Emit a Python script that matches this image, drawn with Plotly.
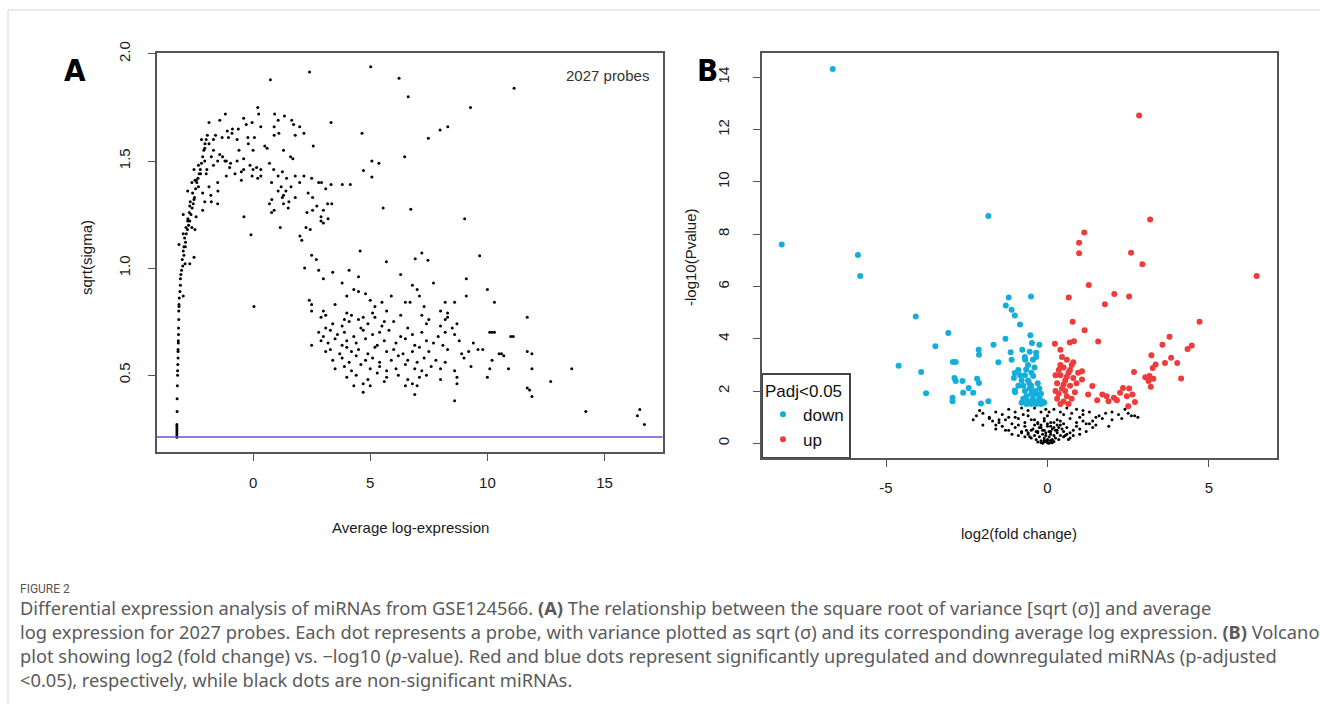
import plotly.graph_objects as go

W, H = 1320, 704

# ---------------- Panel A data (Average log-expression vs sqrt(sigma)) ----------------
a_curve_x = [-3.25, -3.25, -3.25, -3.25, -3.25, -3.25, -3.25, -3.24, -3.24, -3.23, -3.22, -3.22, -3.21, -3.2, -3.2, -3.2,
             -3.19, -3.19, -3.18, -3.18, -3.17, -3.17, -3.16, -3.16, -3.15, -3.12, -3.1, -3.1, -3.08, -3.05, -3.0, -3.02,
             -2.95, -2.9, -2.98, -2.95, -2.88, -2.92, -2.85, -2.8, -2.86, -2.75, -2.7, -2.78, -2.65, -2.72, -2.6, -2.55,
             -2.68, -2.5, -2.58, -2.45, -2.4, -2.35, -2.48, -2.3, -2.25, -2.2, -2.15, -2.1, -2.05, -2.0, -1.95,
             -2.98, -2.70, -2.52]
a_curve_y = [0.21, 0.22, 0.23, 0.24, 0.25, 0.26, 0.27, 0.33, 0.39, 0.45, 0.50, 0.52, 0.55, 0.58, 0.61, 0.62,
             0.65, 0.66, 0.69, 0.72, 0.76, 0.80, 0.82, 0.83, 0.86, 0.89, 0.92, 0.95, 0.97, 0.99, 1.01, 1.04,
             1.06, 1.02, 1.08, 1.10, 1.12, 1.14, 1.16, 1.18, 1.19, 1.20, 1.22, 1.23, 1.25, 1.26, 1.28, 1.30,
             1.31, 1.33, 1.35, 1.37, 1.40, 1.42, 1.41, 1.44, 1.46, 1.49, 1.52, 1.55, 1.58, 1.60, 1.62,
             0.87, 1.02, 1.05]

a_hump_x = [-1.88, -1.42, -1.18, -0.88, -0.63, -0.40, -0.29, -0.04, 0.24, 0.20, 0.92, 1.07, 1.34, 1.65, 1.73, 1.99,
            2.17, 0.33, 0.06, -0.22, -0.68, -1.05, -1.32, -1.69, -1.88, -2.06, -1.69, -1.42, -1.14, -0.96, -0.68,
            -0.40, -0.13, 0.15, 0.33, 0.70, 0.88, 1.07, 1.25, 1.43, 1.62, 1.80, 1.99, 2.17, 2.35, 2.54, 2.72, 2.90,
            3.00, 3.18, 3.36, 2.54, 2.26, 2.08, 2.44, 1.80, 1.53, 1.25, 1.07, 0.79, 0.70, 0.79, 1.16, 0.33, -0.04,
            -0.40, -0.77, -1.14, -1.51, -1.88, -2.15, -2.33, -2.43, -2.24, -1.97, -1.69, -1.51, -1.78, -2.06, -2.33,
            -2.52, -2.61, -2.79, -2.52, -2.70, -2.98, -2.79, -2.61, -2.98, -3.16, -2.89, -2.06, -1.78, -1.51, -2.15,
            -2.43, -2.48,
            -1.3, -1.2, -1.0, -0.5, 0.0, 0.2, 0.5, 0.6, 0.9, 1.1, 1.3, 1.6, 1.7, 1.8, -0.6, -0.2, 0.0, 0.9, -0.9,
            -1.1, -1.6, -2.2, 1.3, 1.4, 1.3, 1.5, 1.2, 2.5, 2.3, 2.8, 3.1, 3.2, 2.9, 3.0, 0.8, 0.9, 2.0, -0.5, -1.5,
            -2.0, -1.8]
a_hump_y = [1.68, 1.69, 1.72, 1.65, 1.65, 1.70, 1.67, 1.68, 1.72, 1.75, 1.72, 1.69, 1.71, 1.69, 1.67, 1.66,
            1.63, 1.66, 1.61, 1.61, 1.60, 1.61, 1.61, 1.60, 1.58, 1.56, 1.55, 1.53, 1.50, 1.49, 1.50,
            1.51, 1.48, 1.47, 1.46, 1.49, 1.46, 1.43, 1.45, 1.42, 1.38, 1.43, 1.40, 1.43, 1.35, 1.33, 1.29, 1.24,
            1.21, 1.30, 1.30, 1.27, 1.19, 1.13, 1.18, 1.33, 1.31, 1.33, 1.36, 1.40, 1.30, 1.26, 1.19, 1.43, 1.43,
            1.46, 1.44, 1.43, 1.40, 1.38, 1.35, 1.38, 1.41, 1.44, 1.46, 1.48, 1.50, 1.52, 1.50, 1.48,
            1.46, 1.40, 1.36, 1.32, 1.29, 1.25, 1.22, 1.19, 1.16, 1.11, 1.10, 1.31, 1.31, 1.30, 1.27,
            1.24, 1.18,
            1.52, 1.50, 1.47, 1.45, 1.46, 1.42, 1.57, 1.56, 1.62, 1.63, 1.55, 1.52, 1.51, 1.62, 1.55, 1.58, 1.55, 1.66, 1.63,
            1.64, 1.62, 1.60, 1.34, 1.36, 1.30, 1.28, 1.38, 1.42, 1.26, 1.40, 1.37, 1.23, 1.22, 1.27, 1.32, 1.27, 1.15, 1.41, 1.36,
            1.44, 1.34]

a_outlier_x = [0.74, 2.41, 5.02, 6.23, 6.62, 11.14, 9.28, 8.31, 7.98, 7.48, 4.65, 3.33, 2.57, 6.47, 5.07, 5.37, 4.71,
               5.07, 4.15, 3.81, 3.33, 2.92, 5.55, 6.73, 9.03, -0.39, -0.09, 0.04, 4.57, 5.69, 7.20, 6.92, 7.46, 9.67,
               13.6, 14.2, 16.5, 16.4, 16.7, 11.8, 9.6, 10.2, 11.1, 10.6]
a_outlier_y = [1.88, 1.916, 1.94, 1.886, 1.80, 1.84, 1.75, 1.66, 1.645, 1.606, 1.63, 1.68, 1.57, 1.52, 1.50, 1.49, 1.456,
               1.425, 1.39, 1.39, 1.39, 1.40, 1.28, 1.275, 1.23, 1.24, 1.156, 0.82, 1.08, 1.03, 1.07, 1.044, 1.036, 1.058,
               0.53, 0.33, 0.34, 0.31, 0.27, 0.43, 0.62, 0.70, 0.68, 0.60]

a_upper_cloud_x = [2.2, 2.5, 2.7, 2.8, 3.0, 3.4, 3.8, 4.1, 4.5, 4.3, 4.5, 4.8, 4.0, 2.4, 2.5, 2.5, 3.0, 3.1, 3.5, 4.0,
                   5.0, 5.2, 5.5, 5.7, 5.9, 6.3, 6.5, 6.7, 6.8, 7.0, 7.1, 7.3, 7.7, 7.2, 8.2, 8.0, 8.6, 9.1, 9.1, 10.0,
                   10.3, 8.2, 8.3, 5.1, 4.7]
a_upper_cloud_y = [1.0, 1.06, 1.04, 0.99, 0.95, 0.98, 0.93, 0.99, 0.96, 0.90, 0.89, 0.88, 0.87, 0.85, 0.83, 0.80, 0.80,
                   0.78, 0.83, 0.79, 0.85, 0.82, 0.84, 0.80, 0.87, 0.97, 0.84, 0.84, 0.92, 0.90, 0.87, 0.82, 0.93, 0.78,
                   0.84, 0.80, 0.84, 0.95, 0.87, 0.90, 0.84, 0.76, 0.79, 0.79, 0.77]

a_cloud_x = [2.9, 3.9, 4.2, 4.5, 5.2, 5.6, 6.3, 7.5, 8.3, 11.7,
             3.1, 3.4, 3.8, 4.1, 4.6, 4.9, 5.5, 6.0, 6.6, 7.4, 8.0, 8.5, 8.7,
             2.8, 3.0, 3.3, 3.6, 3.9, 4.3, 4.7, 5.1, 5.4, 5.8, 6.3, 6.8, 7.2, 7.9, 8.2, 8.6, 10.1, 10.3, 11.0,
             2.5, 2.9, 3.2, 3.5, 3.8, 4.0, 4.4, 4.8, 5.3, 5.6, 6.1, 6.5, 6.9, 7.4, 7.7, 8.1, 8.8, 9.4,
             3.1, 3.3, 3.7, 4.0, 4.2, 4.5, 4.9, 5.2, 5.7, 6.0, 6.4, 6.8, 7.1, 7.5, 8.3, 8.9, 9.2, 9.8, 10.5, 11.7, 11.9,
             3.4, 3.8, 4.1, 4.4, 4.8, 5.1, 5.4, 5.9, 6.2, 6.6, 7.0, 7.3, 7.8, 8.2, 9.0, 10.2, 10.7,
             3.5, 3.9, 4.2, 4.6, 5.0, 5.4, 5.7, 6.1, 6.5, 6.9, 7.2, 7.6, 8.0, 8.6, 9.3, 10.1, 10.9, 11.9,
             4.0, 4.4, 4.9, 5.3, 5.7, 6.2, 6.6, 7.1, 7.4, 8.0, 8.7, 10.0,
             4.3, 4.7, 5.0, 5.6, 6.5, 6.8, 7.0, 8.7, 11.7, 12.7,
             4.7, 6.9, 8.6, 11.9]
a_cloud_y = [0.77, 0.76, 0.78, 0.76, 0.77, 0.75, 0.78, 0.76, 0.77, 0.77,
             0.72, 0.74, 0.73, 0.75, 0.72, 0.74, 0.73, 0.75, 0.72, 0.74, 0.73, 0.72, 0.74,
             0.70, 0.68, 0.71, 0.69, 0.70, 0.68, 0.71, 0.69, 0.70, 0.71, 0.68, 0.69, 0.70, 0.68, 0.70, 0.69, 0.70, 0.70, 0.68,
             0.64, 0.66, 0.65, 0.67, 0.64, 0.66, 0.65, 0.67, 0.64, 0.66, 0.65, 0.67, 0.64, 0.66, 0.65, 0.64, 0.66, 0.65,
             0.61, 0.62, 0.60, 0.63, 0.61, 0.62, 0.60, 0.63, 0.61, 0.62, 0.60, 0.61, 0.63, 0.61, 0.62, 0.60, 0.61, 0.62, 0.60, 0.61, 0.60,
             0.57, 0.58, 0.56, 0.59, 0.57, 0.58, 0.56, 0.57, 0.59, 0.57, 0.56, 0.58, 0.57, 0.56, 0.58, 0.57, 0.59,
             0.53, 0.54, 0.52, 0.55, 0.53, 0.54, 0.52, 0.53, 0.55, 0.53, 0.52, 0.54, 0.53, 0.52, 0.54, 0.53, 0.53, 0.53,
             0.49, 0.50, 0.48, 0.51, 0.49, 0.50, 0.48, 0.49, 0.50, 0.48, 0.49, 0.49,
             0.45, 0.46, 0.45, 0.47, 0.45, 0.46, 0.45, 0.46, 0.44, 0.47,
             0.42, 0.41, 0.38, 0.40]

a_prior_sigma = 0.211   # blue horizontal line
a_probe_label = "2027 probes"
a_xticks = [0, 5, 10, 15]
a_yticks = [0.5, 1.0, 1.5, 2.0]
a_ytick_text = ["0.5", "1.0", "1.5", "2.0"]

# ---------------- Panel B data (volcano) ----------------
b_down_x = [-6.65, -8.23, -5.87, -5.80, -1.83, -4.08, -4.61, -3.91, -3.76, -3.47, -3.07, -2.93, -2.84, -2.88, -2.84,
            -2.63, -2.94, -2.94, -2.61, -2.44, -2.30, -2.18, -2.12, -2.13, -2.12, -1.67, -2.06, -1.83, -1.52, -1.30,
            -1.20, -1.29, -1.11, -1.01, -0.85, -0.51, -0.53, -1.14, -1.11, -1.01, -1.04, -1.01, -0.78, -0.69, -0.66,
            -0.48, -0.25, -0.35, -0.44, -0.57,
            -0.9, -0.85, -0.8, -0.75, -0.7, -0.65, -0.6, -0.55, -0.5, -0.45, -0.4, -0.35, -0.3, -0.25, -0.2, -0.15,
            -0.1, -0.6, -0.5, -0.4, -0.3, -0.7, -0.5, -0.4, -0.6, -0.45, -0.55, -0.35, -0.7, -0.9, -1.0, -0.75, -0.65,
            -0.35, -0.5, -0.8, -0.25, -0.2]
b_down_y = [14.32, 7.61, 7.20, 6.40, 8.70, 4.85, 2.97, 2.73, 1.91, 3.71, 4.22, 3.11, 3.11, 2.50, 2.38,
            2.38, 1.74, 1.61, 1.93, 2.12, 1.93, 2.47, 2.31, 3.58, 3.39, 3.77, 1.52, 1.61, 3.10, 4.00,
            5.58, 5.27, 5.11, 4.89, 4.54, 5.62, 4.13, 3.48, 3.20, 2.69, 2.50, 2.02, 3.58, 3.20, 2.82,
            3.84, 3.77, 3.46, 2.57, 2.31,
            2.8, 2.6, 2.4, 2.2, 2.0, 1.8, 1.6, 2.1, 1.9, 1.7, 1.55, 1.9, 1.6, 1.75, 1.5, 1.6,
            1.55, 2.4, 2.2, 2.0, 2.3, 2.6, 2.7, 2.9, 3.0, 3.2, 3.5, 3.3, 3.3, 2.2, 1.95, 1.7, 1.5,
            1.5, 1.5, 1.55, 2.1, 1.9]

b_up_x = [2.84, 3.18, 1.14, 0.98, 0.98, 2.59, 2.94, 6.48, 1.28, 0.66, 2.07, 1.78, 2.53, 0.78, 1.15, 4.71, 1.57,
          3.78, 3.56, 4.47, 4.34, 0.23, 0.40, 0.69, 0.82, 3.22, 3.35, 3.26, 3.64, 3.83, 4.02, 4.14, 2.68, 3.03,
          3.16, 3.20, 3.13, 3.28, 2.53, 2.34, 2.25, 2.06, 1.83, 1.70, 1.54, 1.89, 2.15, 2.46, 2.63, 2.71, 2.50,
          1.39, 1.26, 1.07, 1.07,
          0.25, 0.3, 0.35, 0.4, 0.45, 0.5, 0.55, 0.6, 0.65, 0.7, 0.75, 0.8, 0.85, 0.5, 0.4, 0.3, 0.6, 0.7, 0.45,
          0.35, 0.55, 0.9, 0.65, 0.75, 0.25, 0.4, 0.8, 0.95, 0.6, 0.5]
b_up_y = [12.54, 8.56, 8.06, 7.67, 7.27, 7.29, 6.85, 6.40, 6.06, 5.58, 5.71, 5.32, 5.62, 4.65, 4.32, 4.65, 3.89,
          4.08, 3.77, 3.74, 3.61, 3.81, 3.58, 3.86, 3.90, 3.37, 3.01, 2.88, 3.07, 3.27, 3.07, 2.48, 2.73, 2.53,
          2.57, 2.16, 2.38, 2.47, 2.10, 2.12, 1.93, 1.74, 1.80, 1.87, 1.65, 1.61, 1.65, 1.80, 1.87, 1.58, 1.42,
          2.19, 1.87, 2.76, 2.44,
          2.0, 2.3, 1.9, 2.6, 2.1, 2.9, 2.4, 1.8, 2.7, 2.2, 3.0, 2.5, 1.95, 1.6, 1.5, 1.7, 3.2, 2.8, 3.3,
          2.8, 2.0, 2.3, 1.5, 1.7, 2.6, 3.0, 3.1, 2.7, 2.55, 2.25]

b_ns_x = [-2.2, -2.0, -1.8, -1.6, -1.4, -1.2, -1.0, -0.8, -0.6, -0.4, -0.2, 0.2, 0.4, 0.6, 0.9, 1.1, 1.3, 1.5, 1.8,
          2.0, 2.2, 2.4, 2.6, 2.8, -2.3, 1.7, 2.3,
          -2.0, -1.7, -1.5, -1.3, -1.1, -0.9, -0.7, -0.5, -0.3, -0.1, 0.1, 0.3, 0.5, 0.7, 0.9, 1.1, 1.3, 1.5, 1.9,
          -1.0, 0.0, 1.0, -0.6, 0.5,
          -1.6, -1.4, -1.2, -1.0, -0.8, -0.7, -0.5, -0.4, -0.3, -0.2, -0.1, 0.0, 0.1, 0.2, 0.3, 0.4, 0.5, 0.6, 0.8,
          1.0, 1.2, 1.4, -0.9, 0.7, -0.6, 0.9,
          -0.9, -0.7, -0.6, -0.5, -0.4, -0.35, -0.3, -0.25, -0.2, -0.15, -0.1, -0.05, 0.0, 0.05, 0.1, 0.15, 0.2,
          0.25, 0.3, 0.35, 0.4, 0.5, 0.6, 0.7, 0.8, -0.8, -1.1, 1.0,
          -0.3, -0.2, -0.1, 0.0, 0.05, 0.1, 0.2, -0.05, 0.15, -0.15, 0.0, 0.1, -0.1,
          -0.45, -0.35, -0.25, -0.15, -0.05, 0.05, 0.15, 0.25, 0.35, 0.45, -0.55, -0.65, 0.55, 0.65, -0.3, -0.2,
          -0.1, 0.0, 0.1, 0.2, 0.3, -0.4, 0.4, -1.3, -1.5, 1.2, 1.6, -1.8, 2.0, 2.5, -1.2, 1.1, -0.75, 0.75,
          -0.05, 0.05, -2.1, 2.7, 1.4, -1.6]
b_ns_y = [1.05, 1.15, 1.0, 1.2, 1.1, 1.3, 1.2, 1.35, 1.25, 1.35, 1.2, 1.3, 1.2, 1.35, 1.3, 1.1, 1.2, 1.0, 1.15,
          1.2, 1.1, 1.3, 1.05, 1.0, 0.9, 0.95, 0.95,
          0.7, 0.85, 0.8, 0.9, 0.75, 0.95, 0.8, 0.9, 0.75, 0.95, 0.8, 0.9, 0.75, 0.95, 0.8, 0.85, 0.75, 0.7, 0.65,
          1.0, 1.05, 1.0, 1.05, 1.1,
          0.55, 0.65, 0.5, 0.6, 0.45, 0.65, 0.5, 0.7, 0.45, 0.6, 0.5, 0.65, 0.45, 0.6, 0.5, 0.7, 0.45, 0.6, 0.5,
          0.55, 0.45, 0.6, 0.7, 0.4, 0.4, 0.65,
          0.3, 0.25, 0.35, 0.2, 0.3, 0.15, 0.4, 0.25, 0.1, 0.35, 0.2, 0.3, 0.1, 0.25, 0.35, 0.15, 0.3,
          0.2, 0.4, 0.15, 0.3, 0.25, 0.35, 0.2, 0.3, 0.4, 0.35, 0.35,
          0.05, 0.03, 0.06, 0.02, 0.0, 0.05, 0.07, 0.08, 0.02, 0.0, 0.15, 0.12, 0.12,
          0.55, 0.45, 0.6, 0.5, 0.4, 0.45, 0.55, 0.5, 0.6, 0.55, 0.25, 0.5, 0.3, 0.15, 0.8, 0.7,
          0.85, 0.75, 0.65, 0.8, 0.7, 0.9, 0.85, 0.5, 0.9, 0.75, 1.05, 0.95, 0.9, 1.15, 1.0, 1.25, 1.1, 1.15,
          1.3, 1.2, 1.25, 1.05, 0.85, 0.7]

b_xticks = [-5, 0, 5]
b_xtick_text = ["-5", "0", "5"]
b_yticks = [0, 2, 4, 6, 8, 10, 12, 14]
b_legend_title = "Padj<0.05"
b_group_names = ["down", "up"]
b_colors = {"down": "#14AEDB", "up": "#EE3B3B", "ns": "#000000"}

caption_head = "FIGURE 2"
caption_lines = [
    "Differential expression analysis of miRNAs from GSE124566. <b>(A)</b> The relationship between the square root of variance [sqrt (σ)] and average",
    "log expression for 2027 probes. Each dot represents a probe, with variance plotted as sqrt (σ) and its corresponding average log expression. <b>(B)</b> Volcano",
    "plot showing log2 (fold change) vs. −log10 (<i>p</i>-value). Red and blue dots represent significantly upregulated and downregulated miRNAs (p-adjusted",
    "<0.05), respectively, while black dots are non-significant miRNAs.",
]


def px(x):
    return x / W


def py(y):
    return 1 - y / H


fig = go.Figure()

a_marker = dict(color="black", size=3, line=dict(width=0))
for xs, ys in [(a_curve_x, a_curve_y), (a_hump_x, a_hump_y), (a_outlier_x, a_outlier_y),
               (a_upper_cloud_x, a_upper_cloud_y), (a_cloud_x, a_cloud_y)]:
    fig.add_trace(go.Scatter(x=xs, y=ys, mode="markers", marker=a_marker, xaxis="x", yaxis="y",
                             showlegend=False, hoverinfo="skip"))

fig.add_trace(go.Scatter(x=b_ns_x, y=b_ns_y, mode="markers", xaxis="x2", yaxis="y2",
                         marker=dict(color=b_colors["ns"], size=3, line=dict(width=0)), showlegend=False))
fig.add_trace(go.Scatter(x=b_down_x, y=b_down_y, mode="markers", xaxis="x2", yaxis="y2", name=b_group_names[0],
                         marker=dict(color=b_colors["down"], size=6, line=dict(width=0))))
fig.add_trace(go.Scatter(x=b_up_x, y=b_up_y, mode="markers", xaxis="x2", yaxis="y2", name=b_group_names[1],
                         marker=dict(color=b_colors["up"], size=6, line=dict(width=0))))

axis_font = dict(family="Liberation Sans, Arial, sans-serif", size=15, color="#1a1a1a")
common = dict(showgrid=False, zeroline=False, showline=True, mirror=True, linecolor="#555", linewidth=1.6,
              ticks="outside", ticklen=7, tickwidth=1.2, tickcolor="#555", tickfont=axis_font, automargin=False)

fig.update_layout(
    template="none",
    width=W, height=H, margin=dict(l=0, r=0, t=0, b=0, pad=0, autoexpand=False),
    paper_bgcolor="white", plot_bgcolor="white",
    xaxis=dict(domain=[px(156.5), px(662.7)], range=[-4.12, 17.48], tickvals=a_xticks,
               anchor="y", ticklabelstandoff=9, **common),
    yaxis=dict(domain=[py(452), py(53.3)], range=[0.141, 2.003], tickvals=a_yticks,
               ticktext=a_ytick_text, tickangle=-90, anchor="x", ticklabelstandoff=12, **common),
    xaxis2=dict(domain=[px(761.7), px(1276.7)], range=[-8.85, 7.1], tickvals=b_xticks, ticktext=b_xtick_text,
                anchor="y2", ticklabelstandoff=8, **common),
    yaxis2=dict(domain=[py(458.3), py(53.3)], range=[-0.574, 14.92], tickvals=b_yticks,
                tickangle=-90, anchor="x2", ticklabelstandoff=18, **common),
    legend=dict(x=px(761.7), y=py(458.3), xanchor="left", yanchor="bottom",
                title=dict(text=b_legend_title, font=dict(family="Liberation Sans, Arial", size=17, color="#111")),
                font=dict(family="Liberation Sans, Arial", size=17, color="#111"),
                bordercolor="#444", borderwidth=1.3, bgcolor="white"),
    shapes=[
        dict(type="line", xref="x domain", yref="y", x0=0, x1=1, y0=a_prior_sigma, y1=a_prior_sigma,
             line=dict(color="#5B5BD6", width=1.3)),
        dict(type="line", xref="paper", yref="paper", x0=px(8), x1=1, y0=py(10), y1=py(10),
             line=dict(color="#d4d4d4", width=1)),
        dict(type="line", xref="paper", yref="paper", x0=px(8), x1=px(8), y0=py(10), y1=0,
             line=dict(color="#d4d4d4", width=1)),
    ],
)

ann = []
lab_font = dict(family="Liberation Sans, Arial", size=15, color="#1a1a1a")


def add_text(text, x, y, font, xanchor="center", angle=0):
    ann.append(dict(text=text, x=px(x), y=py(y), xref="paper", yref="paper", xanchor=xanchor, yanchor="middle",
                    textangle=angle, showarrow=False, font=font))


add_text("Average log-expression", 410, 527, lab_font)
add_text("sqrt(sigma)", 87, 257, lab_font, angle=-90)
add_text("log2(fold change)", 1019, 533, lab_font)
add_text("-log10(Pvalue)", 691, 257, lab_font, angle=-90)
add_text(a_probe_label, 651, 76, dict(family="Liberation Sans, Arial", size=15, color="#333"), xanchor="right")
panel_font = dict(family="Liberation Sans Narrow, DejaVu Sans Condensed, Liberation Sans, Arial", size=31, color="black")
add_text("<b>A</b>", 75, 70, panel_font)
add_text("<b>B</b>", 707, 70, panel_font)
add_text(caption_head, 18, 589, dict(family="Roboto, sans-serif", size=12, color="#555"), xanchor="left")
for i, line in enumerate(caption_lines):
    add_text(line, 18, 607 + 24.2 * i, dict(family="Noto Sans, sans-serif", size=18.3, color="#5a5a5a"), xanchor="left")
fig.update_layout(annotations=ann)

fig.write_html("out.html", config={"displayModeBar": False},
               post_script="document.body.style.margin='0';document.body.style.overflow='hidden';")
